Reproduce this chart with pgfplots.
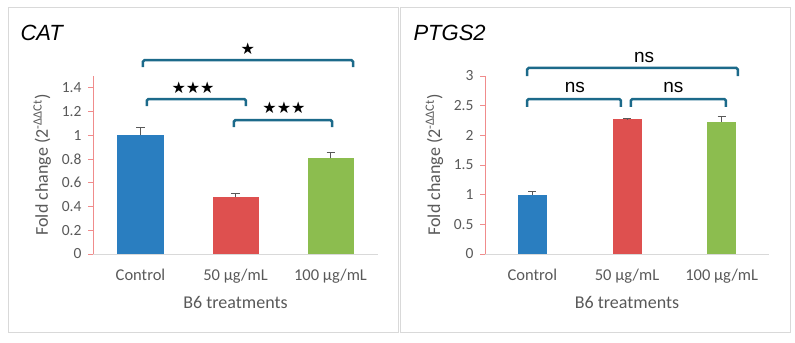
\documentclass[border=0pt]{standalone}
\usepackage{fontspec}
\setmainfont{Carlito}
\newfontfamily\arialf{Liberation Sans}
\newfontfamily\dejavu{DejaVu Sans}
\usepackage{pgfplots}
\pgfplotsset{compat=1.18}
\definecolor{cblue}{HTML}{2A7EC0}
\definecolor{cred}{HTML}{DE504F}
\definecolor{cgreen}{HTML}{8CBD4F}
\definecolor{brk}{HTML}{1C6A8A}
\definecolor{axred}{HTML}{F08C8C}
\definecolor{txt}{HTML}{595959}
\definecolor{framec}{HTML}{D9D9D9}
\tikzset{brkt/.style={brk, line width=2.5bp, rounded corners=1.5bp}}
\pgfplotsset{
 panel/.style={
  scale only axis, height=178bp, anchor=south west,
  xmin=-0.5, xmax=2.5, ymin=0, clip=false,
  axis x line=bottom, axis y line=left, axis line style={-},
  x axis line style={draw=framec, line width=1bp},
  y axis line style={draw=axred, line width=1bp},
  xtick={0,1,2}, xticklabels={Control, 50 µg/mL, 100 µg/mL},
  xtick style={draw=none},
  ytick style={draw=axred, line width=1bp}, tick align=outside, major tick length=5bp,
  tick label style={font=\fontsize{15.5bp}{17bp}\selectfont, text=txt},
  xticklabel style={font=\fontsize{16.5bp}{18bp}\selectfont, yshift=-7bp},
  yticklabel style={xshift=-3bp},
  /pgf/number format/assume math mode=true,
  xlabel={B6 treatments},
  xlabel style={font=\fontsize{18bp}{21bp}\selectfont, text=txt, at={(axis description cs:0.5,0)}, anchor=center, yshift=-48bp},
  ylabel={Fold change (2\textsuperscript{-ΔΔCt})},
  ylabel style={font=\fontsize{18bp}{20bp}\selectfont, text=txt, at={(axis description cs:-0.178,0.5)}, anchor=center},
 },
 errb/.style={error bars/.cd, y dir=plus, y explicit, error bar style={txt, line width=1bp}, error mark options={rotate=90, mark size=4bp, txt, line width=1bp}},
}
\begin{document}
\begin{tikzpicture}
\useasboundingbox (0bp,0bp) rectangle (795bp,343bp);
\draw[framec, line width=1bp] (8bp,10bp) rectangle (398bp,335bp);
\draw[framec, line width=1bp] (400bp,10bp) rectangle (790bp,335bp);
\node[anchor=west, font=\arialf\itshape\fontsize{22bp}{25bp}\selectfont] at (17bp,310bp) {CAT};
\node[anchor=west, font=\arialf\itshape\fontsize{22bp}{25bp}\selectfont] at (410bp,310bp) {PTGS2};
\begin{axis}[panel, at={(93bp,89bp)}, width=285bp, ymax=1.5, ytick={0,0.2,0.4,0.6,0.8,1,1.2,1.4}]
\addplot[ybar, bar width=46bp, bar shift=0pt, fill=cblue, draw=none, errb] coordinates {(0,1.0) +- (0,0.065)};
\addplot[ybar, bar width=46bp, bar shift=0pt, fill=cred, draw=none, errb] coordinates {(1,0.478) +- (0,0.032)};
\addplot[ybar, bar width=46bp, bar shift=0pt, fill=cgreen, draw=none, errb] coordinates {(2,0.805) +- (0,0.05)};
\draw[brkt] (axis cs:0.026,1.575) |- (axis cs:2.237,1.634) -- (axis cs:2.237,1.575);
\draw[brkt] (axis cs:0.068,1.247) |- (axis cs:1.11,1.306) -- (axis cs:1.11,1.247);
\draw[brkt] (axis cs:0.984,1.07) |- (axis cs:2.016,1.129) -- (axis cs:2.016,1.07);
\node[font=\dejavu\fontsize{16bp}{18bp}\selectfont] at (axis cs:1.13,1.727) {★};
\node[font=\dejavu\fontsize{16bp}{18bp}\selectfont] at (axis cs:0.553,1.40) {★★★};
\node[font=\dejavu\fontsize{16bp}{18bp}\selectfont] at (axis cs:1.51,1.23) {★★★};
\end{axis}
\begin{axis}[panel, at={(485bp,89bp)}, width=284bp, ymax=3, ytick={0,0.5,1,1.5,2,2.5,3}]
\addplot[ybar, bar width=29bp, bar shift=0pt, fill=cblue, draw=none, errb] coordinates {(0,1.0) +- (0,0.06)};
\addplot[ybar, bar width=29bp, bar shift=0pt, fill=cred, draw=none, errb] coordinates {(1,2.27) +- (0,0.01)};
\addplot[ybar, bar width=29bp, bar shift=0pt, fill=cgreen, draw=none, errb] coordinates {(2,2.23) +- (0,0.08)};
\draw[brkt] (axis cs:-0.056,3.0) |- (axis cs:2.17,3.135) -- (axis cs:2.17,3.0);
\draw[brkt] (axis cs:-0.056,2.48) |- (axis cs:0.936,2.61) -- (axis cs:0.936,2.48);
\draw[brkt] (axis cs:1.04,2.48) |- (axis cs:2.045,2.61) -- (axis cs:2.045,2.48);
\node[font=\arialf\fontsize{19bp}{22bp}\selectfont] at (axis cs:1.18,3.32) {ns};
\node[font=\arialf\fontsize{19bp}{22bp}\selectfont] at (axis cs:0.45,2.80) {ns};
\node[font=\arialf\fontsize{19bp}{22bp}\selectfont] at (axis cs:1.49,2.80) {ns};
\end{axis}
\end{tikzpicture}
\end{document}
